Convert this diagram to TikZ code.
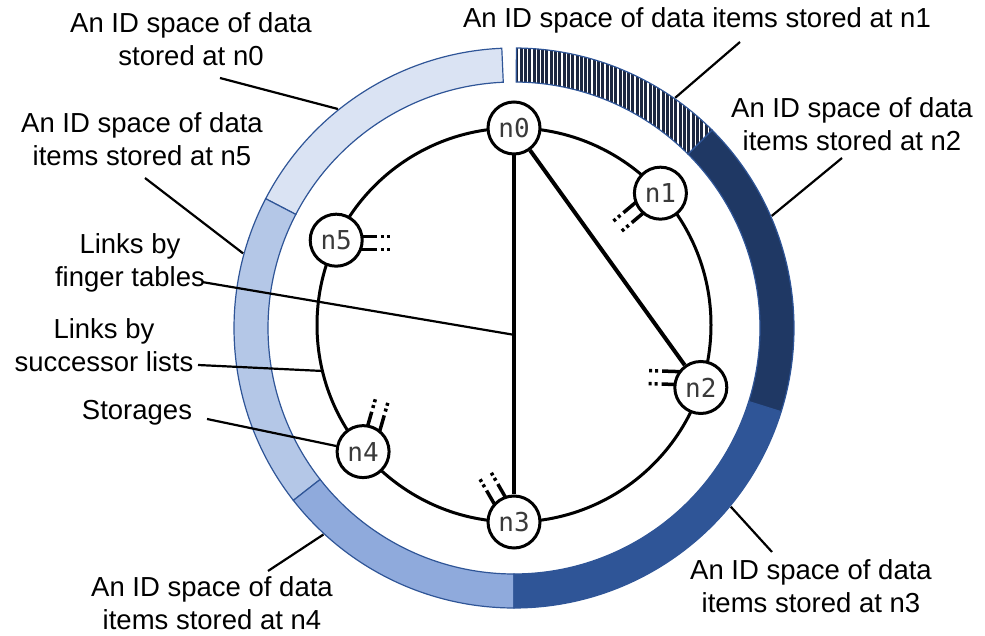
\documentclass[tikz,border=0pt]{standalone}
\usepackage{fontspec}
\setmainfont{Liberation Sans}
\newfontfamily\nodemono{DejaVu Sans Mono}
\usetikzlibrary{calc}
\definecolor{segnzero}{HTML}{DAE3F3}
\definecolor{segnfive}{HTML}{B4C7E7}
\definecolor{segnfour}{HTML}{8FAADC}
\definecolor{segnthree}{HTML}{2F5597}
\definecolor{segntwo}{HTML}{1F3864}
\definecolor{hatchdark}{HTML}{1C2740}
\definecolor{segedge}{HTML}{2F5597}
\definecolor{labelgray}{HTML}{3A3A3A}
\newcommand\ringseg[3]{\path[#3] ($(C)+(#1:280)$) arc[start angle=#1,end angle=#2,radius=280] -- ($(C)+(#2:246)$) arc[start angle=#2,end angle=#1,radius=246] -- cycle;}
\newcommand\stubpair[3]{%
  \draw[stubline] ($(#1)+(#2:22)+({#3+90}:6.5)$) -- ++(#3:32);
  \draw[stubline] ($(#1)+(#2:22)+({#3-90}:6.5)$) -- ++(#3:32);}
\begin{document}
\begin{tikzpicture}[x=1pt,y=1pt,
  segbox/.style={draw=segedge,line width=1.2},
  peer/.style={circle,draw=black,line width=3,fill=white,minimum size=52,inner sep=0,
     font=\nodemono\fontsize{26}{26}\selectfont,text=labelgray},
  stubline/.style={line width=3.5,dash pattern=on 19pt off 4pt on 3pt off 3pt on 3pt off 40pt},
  chord/.style={line width=4},
  leader/.style={line width=2.2},
  lbl/.style={align=center,inner sep=0,font=\fontsize{27.5}{33}\selectfont}]
\useasboundingbox (0,0) rectangle (985,636);
\coordinate (C) at (514,308);
\coordinate (R) at (514,311);
% outer ring segments
\ringseg{92.5}{152.5}{segbox,fill=segnzero}
\ringseg{152.5}{218}{segbox,fill=segnfive}
\ringseg{218}{270}{segbox,fill=segnfour}
\ringseg{270}{342.6}{segbox,fill=segnthree}
\ringseg{-17.4}{45}{segbox,fill=segntwo}
\begin{scope}
  \clip ($(C)+(45:280)$) arc[start angle=45,end angle=89.5,radius=280] -- ($(C)+(89.5:246)$) arc[start angle=89.5,end angle=45,radius=246] -- cycle;
  \fill[hatchdark] (500,450) rectangle (800,600);
  \foreach \k in {0,...,50} \draw[white,line width=1.3] ({519+\k*4.3},450) -- ({519+\k*4.3},600);
\end{scope}
\ringseg{45}{89.5}{segbox}
% inner ring
\draw[line width=3] (R) circle[radius=197];
\coordinate (p0) at ($(R)+(90:197)$);
\coordinate (p1) at ($(R)+(42:197)$);
\coordinate (p2) at ($(R)+(-18.5:197)$);
\coordinate (p3) at ($(R)+(-90:197)$);
\coordinate (p4) at ($(R)+(220:197)$);
\coordinate (p5) at ($(R)+(154.5:197)$);
% stubs (more links)
\stubpair{p5}{-8}{0}
\stubpair{p1}{214}{220}
\stubpair{p2}{155}{178}
\stubpair{p4}{64}{74}
\stubpair{p3}{124}{120}
% peers
\node[peer] (n0) at (p0) {n0};
\node[peer] (n1) at (p1) {n1};
\node[peer] (n2) at (p2) {n2};
\node[peer] (n3) at (p3) {n3};
\node[peer] (n4) at (p4) {n4};
\node[peer] (n5) at (p5) {n5};
% finger links
\draw[chord] (n0) -- (n3);
\draw[chord] (n0) -- (n2);
% labels
\node[lbl] (t1) at (697,616) {An ID space of data items stored at n1};
\node[lbl] (t0) at (191,597) {An ID space of data\\stored at n0};
\node[lbl] (t5) at (142,497) {An ID space of data\\items stored at n5};
\node[lbl] (t2) at (852,512) {An ID space of data\\items stored at n2};
\node[lbl] (tf) at (130,373) {Links by\\finger tables};
\node[lbl] (ts) at (104,291) {Links by\\successor lists};
\node[lbl] (tst) at (137,223) {Storages};
\node[lbl] (t4) at (212,33) {An ID space of data\\items stored at n4};
\node[lbl] (t3) at (811,50) {An ID space of data\\items stored at n3};
% leader end points
\coordinate (l1a) at (740,594); \coordinate (l1b) at ($(C)+(55:281)$);
\coordinate (l0a) at (220,558); \coordinate (l0b) at ($(C)+(128.8:281)$);
\coordinate (l5a) at (145,458); \coordinate (l5b) at ($(C)+(164.6:281)$);
\coordinate (l2a) at (842,478); \coordinate (l2b) at ($(C)+(23.5:281)$);
\coordinate (lfa) at (202,354); \coordinate (lfb) at ($(n0.center)!0.525!(n3.center)$);
\coordinate (lsa) at (198,271); \coordinate (lsb) at ($(R)+(193.5:197)$);
\coordinate (lta) at (207,217);
\coordinate (l4a) at (268,65);  \coordinate (l4b) at ($(C)+(227.3:281)$);
\coordinate (l3a) at (772,84);  \coordinate (l3b) at ($(C)+(-39.5:281)$);
\draw[leader] (l1a) -- (l1b);
\draw[leader] (l0a) -- (l0b);
\draw[leader] (l5a) -- (l5b);
\draw[leader] (l2a) -- (l2b);
\draw[leader] (lfa) -- (lfb);
\draw[leader] (lsa) -- (lsb);
\draw[leader] (lta) -- (n4);
\draw[leader] (l4a) -- (l4b);
\draw[leader] (l3a) -- (l3b);
\end{tikzpicture}
\end{document}
